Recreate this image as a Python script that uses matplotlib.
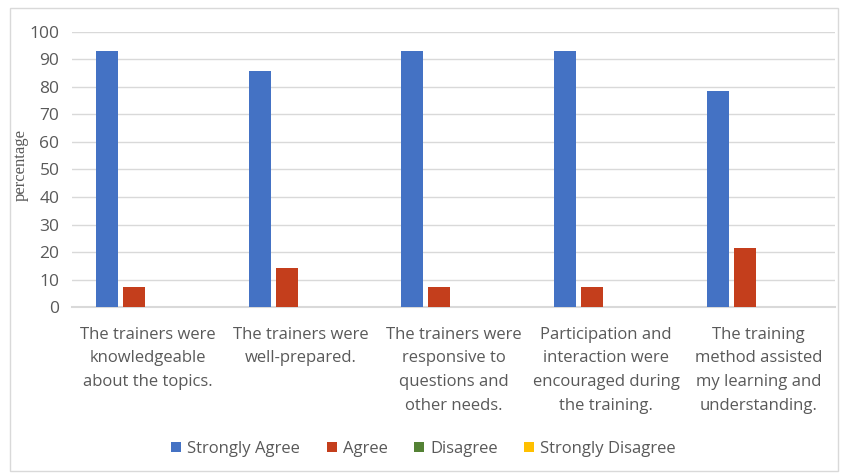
import numpy as np
import matplotlib.pyplot as plt
from matplotlib.patches import Rectangle

categories = [
    "The trainers were\nknowledgeable\nabout the topics.",
    "The trainers were\nwell-prepared.",
    "The trainers were\nresponsive to\nquestions and\nother needs.",
    "Participation and\ninteraction were\nencouraged during\nthe training.",
    "The training\nmethod assisted\nmy learning and\nunderstanding.",
]
strongly_agree = [92.86, 85.71, 92.86, 92.86, 78.57]
agree = [7.14, 14.29, 7.14, 7.14, 21.43]
disagree = [0, 0, 0, 0, 0]
strongly_disagree = [0, 0, 0, 0, 0]

series = [
    ("Strongly Agree", strongly_agree, "#4472C4"),
    ("Agree", agree, "#C43E1C"),
    ("Disagree", disagree, "#548235"),
    ("Strongly Disagree", strongly_disagree, "#FFC000"),
]

text_color = "#595959"
grid_color = "#D9D9D9"
plt.rcParams["font.family"] = ["Open Sans", "DejaVu Sans"]

fig = plt.figure(figsize=(8.47, 4.74), dpi=100)
ax = fig.add_axes([0.085, 0.352, 0.901, 0.581])

x = np.arange(len(categories))
step = 0.177
width = 0.144
for i, (name, vals, color) in enumerate(series):
    offset = (i - 1.5) * step - 0.005
    ax.bar(x + offset, vals, width, color=color, label=name, zorder=3)

ax.set_xlim(-0.5, len(categories) - 0.5)
ax.set_ylim(0, 100)
ax.set_yticks(range(0, 101, 10))
ax.set_xticks(x)
ax.set_xticklabels(categories, fontsize=12, color=text_color, linespacing=1.65)
ax.tick_params(axis="y", labelsize=12.5, colors=text_color, length=0, pad=9)
ax.tick_params(axis="x", length=0, pad=14)
ax.grid(axis="y", color=grid_color, linewidth=1, zorder=0)
for side in ["top", "right", "left"]:
    ax.spines[side].set_visible(False)
ax.spines["bottom"].set_color(grid_color)
ax.spines["bottom"].set_linewidth(1.5)

fig.text(0.024, 0.652, "percentage", rotation=90, ha="center", va="center",
         fontsize=12, color=text_color, family="Liberation Serif")

ax.legend(loc="center", bbox_to_anchor=(0.5, 0.053), bbox_transform=fig.transFigure,
          ncol=4, frameon=False, fontsize=12, labelcolor=text_color,
          handlelength=0.6, handleheight=0.6, handletextpad=0.35, columnspacing=1.6)

# light chart-area border
fig.patches.append(Rectangle((0.012, 0.006), 0.977, 0.978, transform=fig.transFigure,
                             fill=False, edgecolor="#D9D9D9", linewidth=1))

fig.savefig("out.png", dpi=100)
